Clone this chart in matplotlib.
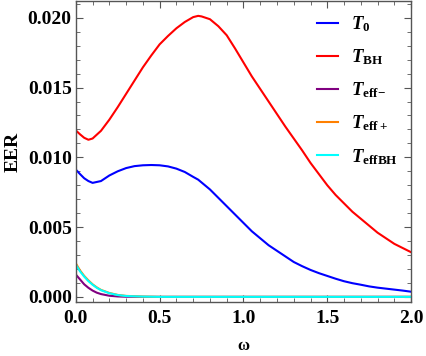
import numpy as np
import matplotlib
matplotlib.use("Agg")
import matplotlib.pyplot as plt
from matplotlib.ticker import MultipleLocator

plt.rcParams['font.family'] = 'Liberation Serif'
plt.rcParams['font.weight'] = 'bold'
plt.rcParams['mathtext.fontset'] = 'custom'
plt.rcParams['mathtext.rm'] = 'Liberation Serif:bold'
plt.rcParams['mathtext.bf'] = 'Liberation Serif:bold'
plt.rcParams['mathtext.it'] = 'Liberation Serif:italic:bold'
plt.rcParams['mathtext.bfit'] = 'Liberation Serif:italic:bold'

# values
w_big = [0.0, 0.025, 0.05, 0.075, 0.1, 0.15, 0.2, 0.25, 0.3, 0.35, 0.4, 0.45,
         0.5, 0.55, 0.6, 0.65, 0.7, 0.73, 0.75, 0.8, 0.85, 0.9, 0.95, 1.0,
         1.05, 1.1, 1.15, 1.2, 1.25, 1.3, 1.35, 1.4, 1.45, 1.5, 1.55, 1.6,
         1.65, 1.7, 1.75, 1.8, 1.85, 1.9, 1.95, 2.0]
T0 = [0.00912, 0.0088, 0.0085, 0.0083, 0.00817, 0.0083, 0.0087, 0.0090,
      0.00923, 0.00937, 0.00943, 0.00945, 0.00943, 0.00935, 0.00919, 0.00895,
      0.0086, 0.0084, 0.0082, 0.0077, 0.0071, 0.0065, 0.0059, 0.0053, 0.0047,
      0.0042, 0.0037, 0.0033, 0.0029, 0.0025, 0.0022, 0.00193, 0.0017, 0.0015,
      0.0013, 0.00112, 0.00098, 0.00087, 0.00075, 0.00066, 0.00059, 0.00052,
      0.00045, 0.00037]
TBH = [0.01193, 0.01165, 0.0114, 0.01126, 0.01135, 0.0119, 0.0127, 0.0136,
       0.01455, 0.0155, 0.01645, 0.0173, 0.0181, 0.0187, 0.01925, 0.0197,
       0.02005, 0.02014, 0.0201, 0.0199, 0.0194, 0.01875, 0.0178, 0.0168,
       0.0158, 0.0149, 0.0140, 0.0131, 0.0122, 0.01135, 0.0105, 0.0096,
       0.0088, 0.0080, 0.0073, 0.0067, 0.0061, 0.0056, 0.0051, 0.0046, 0.0042,
       0.0038, 0.0035, 0.0032]

w_small = [0.0, 0.025, 0.05, 0.075, 0.1, 0.125, 0.15, 0.2, 0.25, 0.3, 0.4, 0.5,
           1.0, 1.5, 2.0]
Teff_minus = [0.0016, 0.00125, 0.0009, 0.00065, 0.00045, 0.0003, 0.0002,
              0.00008, 0.00003, 0.00001, 0.0, 0.0, 0.0, 0.0, 0.0]
Teff_plus = [0.0024, 0.0019, 0.0015, 0.00118, 0.0009, 0.00068, 0.0005,
             0.00028, 0.00014, 0.00007, 0.00002, 0.0, 0.0, 0.0, 0.0]
Teff_BH = [0.0023, 0.00183, 0.00145, 0.00113, 0.00087, 0.00065, 0.00048,
           0.00026, 0.00013, 0.00006, 0.00002, 0.0, 0.0, 0.0, 0.0]

fig = plt.figure(figsize=(4.26, 3.56), dpi=100)
ax = fig.add_axes([0.178, 0.152, 0.787, 0.845])

ax.plot(w_big, T0, color=(0, 0, 1), lw=1.5, label=r'$\mathbfit{T}_{\mathbf{0}}$')
ax.plot(w_big, TBH, color=(1, 0, 0), lw=1.5, label=r'$\mathbfit{T}_{\mathbf{BH}}$')
ax.plot(w_small, Teff_minus, color=(0.5, 0, 0.5), lw=1.5,
        label=r'$\mathbfit{T}_{\mathbf{eff}\mathbf{-}}$')
ax.plot(w_small, Teff_plus, color=(1, 0.5, 0), lw=1.5,
        label=r'$\mathbfit{T}_{\mathbf{eff+}}$')
ax.plot(w_small, Teff_BH, color=(0, 1, 1), lw=1.5,
        label=r'$\mathbfit{T}_{\mathbf{effBH}}$')

ax.set_xlim(0, 2)
ax.set_ylim(-0.00036, 0.0212)
ax.xaxis.set_major_locator(MultipleLocator(0.5))
ax.xaxis.set_minor_locator(MultipleLocator(0.1))
ax.yaxis.set_major_locator(MultipleLocator(0.005))
ax.yaxis.set_minor_locator(MultipleLocator(0.001))
ax.xaxis.set_major_formatter(plt.FormatStrFormatter('%.1f'))
ax.yaxis.set_major_formatter(plt.FormatStrFormatter('%.3f'))

for s in ax.spines.values():
    s.set_color('#555555')
    s.set_linewidth(1.0)
ax.tick_params(which='both', direction='in', top=True, right=True,
               colors='#555555', labelcolor='black', labelsize=14)
ax.tick_params(which='major', length=5, width=0.8)
ax.tick_params(which='minor', length=3, width=0.6)
ax.tick_params(axis='y', pad=3)
ax.tick_params(axis='x', pad=6)

ax.set_xlabel('ω', fontsize=12, fontweight='bold', labelpad=8)
ax.set_ylabel('EER', fontsize=14, fontweight='bold', labelpad=4)

ax.legend(loc='upper right', frameon=False, fontsize=13.5, handlelength=1.1,
          handletextpad=0.7, labelspacing=0.72, borderaxespad=0.3)

fig.savefig('out.png', dpi=100)
